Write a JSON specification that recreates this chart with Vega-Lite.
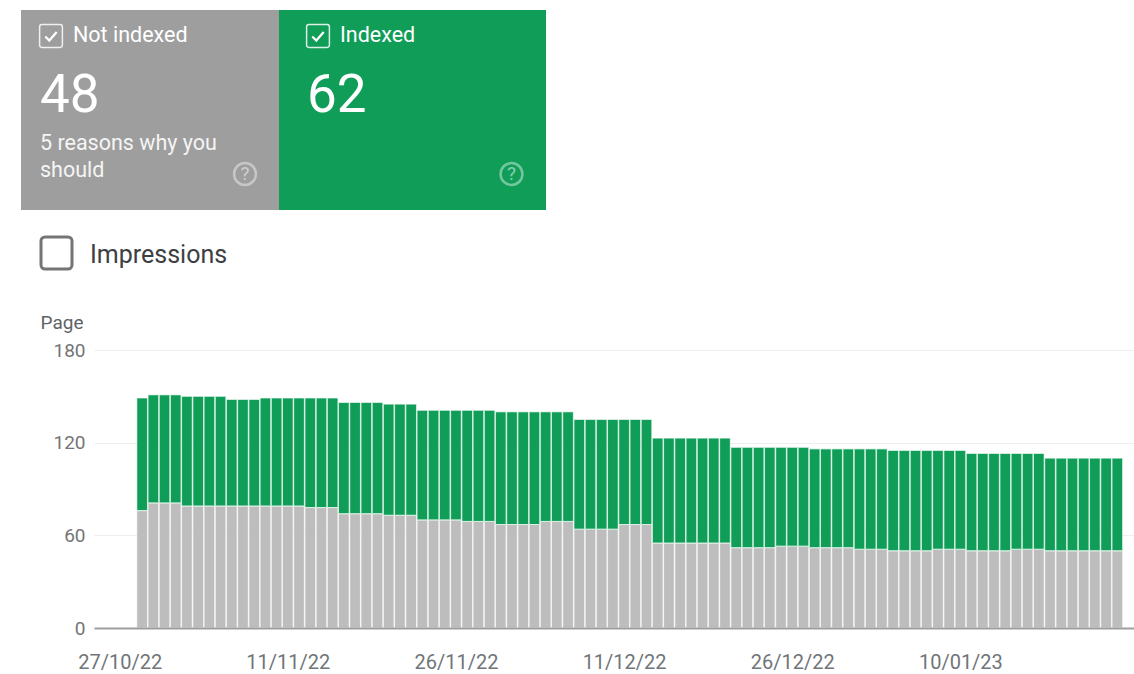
{"$schema":"https://vega.github.io/schema/vega-lite/v6.json","width":1040,"height":278,"autosize":"none","padding":{"left":94,"top":350,"right":0,"bottom":46},"background":"#ffffff","config":{"view":{"stroke":null},"font":"Roboto"},
"datasets":{"cards":[{"card":"Not indexed","count":48,"note1":"5 reasons why you","note2":"should"},{"card":"Indexed","count":62,"note1":"","note2":""}],"controls":[{"control":"Impressions"}],
"pages":[{"date":"2022-10-29","Not indexed":76,"Indexed":73},{"date":"2022-10-30","Not indexed":81,"Indexed":70},{"date":"2022-10-31","Not indexed":81,"Indexed":70},{"date":"2022-11-01","Not indexed":81,"Indexed":70},{"date":"2022-11-02","Not indexed":79,"Indexed":71},{"date":"2022-11-03","Not indexed":79,"Indexed":71},{"date":"2022-11-04","Not indexed":79,"Indexed":71},{"date":"2022-11-05","Not indexed":79,"Indexed":71},{"date":"2022-11-06","Not indexed":79,"Indexed":69},{"date":"2022-11-07","Not indexed":79,"Indexed":69},{"date":"2022-11-08","Not indexed":79,"Indexed":69},{"date":"2022-11-09","Not indexed":79,"Indexed":70},{"date":"2022-11-10","Not indexed":79,"Indexed":70},{"date":"2022-11-11","Not indexed":79,"Indexed":70},{"date":"2022-11-12","Not indexed":79,"Indexed":70},{"date":"2022-11-13","Not indexed":78,"Indexed":71},{"date":"2022-11-14","Not indexed":78,"Indexed":71},{"date":"2022-11-15","Not indexed":78,"Indexed":71},{"date":"2022-11-16","Not indexed":74,"Indexed":72},{"date":"2022-11-17","Not indexed":74,"Indexed":72},{"date":"2022-11-18","Not indexed":74,"Indexed":72},{"date":"2022-11-19","Not indexed":74,"Indexed":72},{"date":"2022-11-20","Not indexed":73,"Indexed":72},{"date":"2022-11-21","Not indexed":73,"Indexed":72},{"date":"2022-11-22","Not indexed":73,"Indexed":72},{"date":"2022-11-23","Not indexed":70,"Indexed":71},{"date":"2022-11-24","Not indexed":70,"Indexed":71},{"date":"2022-11-25","Not indexed":70,"Indexed":71},{"date":"2022-11-26","Not indexed":70,"Indexed":71},{"date":"2022-11-27","Not indexed":69,"Indexed":72},{"date":"2022-11-28","Not indexed":69,"Indexed":72},{"date":"2022-11-29","Not indexed":69,"Indexed":72},{"date":"2022-11-30","Not indexed":67,"Indexed":73},{"date":"2022-12-01","Not indexed":67,"Indexed":73},{"date":"2022-12-02","Not indexed":67,"Indexed":73},{"date":"2022-12-03","Not indexed":67,"Indexed":73},{"date":"2022-12-04","Not indexed":69,"Indexed":71},{"date":"2022-12-05","Not indexed":69,"Indexed":71},{"date":"2022-12-06","Not indexed":69,"Indexed":71},{"date":"2022-12-07","Not indexed":64,"Indexed":71},{"date":"2022-12-08","Not indexed":64,"Indexed":71},{"date":"2022-12-09","Not indexed":64,"Indexed":71},{"date":"2022-12-10","Not indexed":64,"Indexed":71},{"date":"2022-12-11","Not indexed":67,"Indexed":68},{"date":"2022-12-12","Not indexed":67,"Indexed":68},{"date":"2022-12-13","Not indexed":67,"Indexed":68},{"date":"2022-12-14","Not indexed":55,"Indexed":68},{"date":"2022-12-15","Not indexed":55,"Indexed":68},{"date":"2022-12-16","Not indexed":55,"Indexed":68},{"date":"2022-12-17","Not indexed":55,"Indexed":68},{"date":"2022-12-18","Not indexed":55,"Indexed":68},{"date":"2022-12-19","Not indexed":55,"Indexed":68},{"date":"2022-12-20","Not indexed":55,"Indexed":68},{"date":"2022-12-21","Not indexed":52,"Indexed":65},{"date":"2022-12-22","Not indexed":52,"Indexed":65},{"date":"2022-12-23","Not indexed":52,"Indexed":65},{"date":"2022-12-24","Not indexed":52,"Indexed":65},{"date":"2022-12-25","Not indexed":53,"Indexed":64},{"date":"2022-12-26","Not indexed":53,"Indexed":64},{"date":"2022-12-27","Not indexed":53,"Indexed":64},{"date":"2022-12-28","Not indexed":52,"Indexed":64},{"date":"2022-12-29","Not indexed":52,"Indexed":64},{"date":"2022-12-30","Not indexed":52,"Indexed":64},{"date":"2022-12-31","Not indexed":52,"Indexed":64},{"date":"2023-01-01","Not indexed":51,"Indexed":65},{"date":"2023-01-02","Not indexed":51,"Indexed":65},{"date":"2023-01-03","Not indexed":51,"Indexed":65},{"date":"2023-01-04","Not indexed":50,"Indexed":65},{"date":"2023-01-05","Not indexed":50,"Indexed":65},{"date":"2023-01-06","Not indexed":50,"Indexed":65},{"date":"2023-01-07","Not indexed":50,"Indexed":65},{"date":"2023-01-08","Not indexed":51,"Indexed":64},{"date":"2023-01-09","Not indexed":51,"Indexed":64},{"date":"2023-01-10","Not indexed":51,"Indexed":64},{"date":"2023-01-11","Not indexed":50,"Indexed":63},{"date":"2023-01-12","Not indexed":50,"Indexed":63},{"date":"2023-01-13","Not indexed":50,"Indexed":63},{"date":"2023-01-14","Not indexed":50,"Indexed":63},{"date":"2023-01-15","Not indexed":51,"Indexed":62},{"date":"2023-01-16","Not indexed":51,"Indexed":62},{"date":"2023-01-17","Not indexed":51,"Indexed":62},{"date":"2023-01-18","Not indexed":50,"Indexed":60},{"date":"2023-01-19","Not indexed":50,"Indexed":60},{"date":"2023-01-20","Not indexed":50,"Indexed":60},{"date":"2023-01-21","Not indexed":50,"Indexed":60},{"date":"2023-01-22","Not indexed":50,"Indexed":60},{"date":"2023-01-23","Not indexed":50,"Indexed":60},{"date":"2023-01-24","Not indexed":50,"Indexed":60}]},
"resolve":{"scale":{"x":"independent","y":"independent","color":"independent","stroke":"independent"}},
"layer":[
{"data":{"name":"pages"},"transform":[{"fold":["Not indexed","Indexed"],"as":["status","pages"]}],
"mark":{"type":"bar","width":10.7,"strokeWidth":1,"clip":false,"cornerRadiusTopLeft":{"expr":"datum.status==='Indexed'?2.5:0"},"cornerRadiusTopRight":{"expr":"datum.status==='Indexed'?2.5:0"}},
"encoding":{
"x":{"field":"date","type":"temporal","scale":{"type":"utc","padding":0,"domain":["2022-10-24T17:00:00Z","2023-01-25T11:45:00Z"]},"axis":{"title":null,"values":[{"year":2022,"month":10,"date":27,"utc":true},{"year":2022,"month":11,"date":11,"utc":true},{"year":2022,"month":11,"date":26,"utc":true},{"year":2022,"month":12,"date":11,"utc":true},{"year":2022,"month":12,"date":26,"utc":true},{"year":2023,"month":1,"date":10,"utc":true}],"format":"%d/%m/%y","grid":false,"ticks":false,"domainColor":"#9e9e9e","domainWidth":2,"labelFontSize":20,"labelColor":"#70757a","labelPadding":34,"labelBaseline":"middle","labelFlush":false,"labelOverlap":false,"zindex":1}},
"y":{"field":"pages","type":"quantitative","stack":"zero","scale":{"domain":[0,180],"nice":false},"axis":{"title":"Page","titleAngle":0,"titleAlign":"left","titleBaseline":"middle","titleX":-54,"titleY":-28,"titleFontSize":19,"titleFontWeight":"normal","titleColor":"#5f6368","values":[0,60,120,180],"ticks":false,"domain":false,"gridColor":"#eeeeee","grid":true,"labelFontSize":19,"labelColor":"#757575","labelPadding":9}},
"color":{"field":"status","type":"nominal","legend":null,"scale":{"domain":["Not indexed","Indexed"],"range":["#bdbdbd","#0f9d58"]}},
"stroke":{"field":"status","type":"nominal","legend":null,"scale":{"domain":["Not indexed","Indexed"],"range":["#f4f4f4","#d9f0e3"]}}}},

{"data":{"name":"cards"},"transform":[{"filter":"datum.card==='Not indexed'"}],"mark":{"type":"rect","color":"#9e9e9e","clip":false},"encoding":{"x":{"field":"card","type":"nominal","axis":null,"scale":{"range":[-73,185]}},"y":{"field":"card","type":"nominal","axis":null,"scale":{"range":[-340,-140]}}}},
{"data":{"name":"cards"},"transform":[{"filter":"datum.card==='Indexed'"}],"mark":{"type":"rect","color":"#0f9d58","clip":false},"encoding":{"x":{"field":"card","type":"nominal","axis":null,"scale":{"range":[185,452]}},"y":{"field":"card","type":"nominal","axis":null,"scale":{"range":[-340,-140]}}}},

{"data":{"name":"cards"},"mark":{"type":"point","shape":"M-0.8,-1H0.8Q1,-1 1,-0.8V0.8Q1,1 0.8,1H-0.8Q-1,1 -1,0.8V-0.8Q-1,-1 -0.8,-1Z","filled":false,"size":520,"stroke":"#ffffff","strokeWidth":1.5,"opacity":0.85},"encoding":{"x":{"field":"card","type":"nominal","axis":null,"scale":{"type":"point","padding":0,"domain":["Not indexed","Indexed"],"range":[-43,224]}},"y":{"field":"card","type":"nominal","axis":null,"scale":{"type":"point","padding":0,"range":[-314,-314]}}}},
{"data":{"name":"cards"},"mark":{"type":"point","shape":"M-0.5,0.05L-0.15,0.4L0.5,-0.35","filled":false,"size":520,"stroke":"#ffffff","strokeWidth":2.2,"opacity":1},"encoding":{"x":{"field":"card","type":"nominal","axis":null,"scale":{"type":"point","padding":0,"domain":["Not indexed","Indexed"],"range":[-43,224]}},"y":{"field":"card","type":"nominal","axis":null,"scale":{"type":"point","padding":0,"range":[-314,-314]}}}},
{"data":{"name":"cards"},"mark":{"type":"text","fontSize":21.5,"color":"#ffffff","align":"left","baseline":"middle"},"encoding":{"text":{"field":"card"},"x":{"field":"card","type":"nominal","axis":null,"scale":{"type":"point","padding":0,"domain":["Not indexed","Indexed"],"range":[-21,246]}},"y":{"field":"card","type":"nominal","axis":null,"scale":{"type":"point","padding":0,"range":[-314,-314]}}}},
{"data":{"name":"cards"},"mark":{"type":"text","fontSize":53,"color":"#ffffff","align":"left","baseline":"middle"},"encoding":{"text":{"field":"count","type":"quantitative"},"x":{"field":"card","type":"nominal","axis":null,"scale":{"type":"point","padding":0,"domain":["Not indexed","Indexed"],"range":[-54,213]}},"y":{"field":"card","type":"nominal","axis":null,"scale":{"type":"point","padding":0,"range":[-254,-254]}}}},
{"data":{"name":"cards"},"mark":{"type":"text","fontSize":21.5,"color":"#ffffff","opacity":0.9,"align":"left","baseline":"middle"},"encoding":{"text":{"field":"note1"},"x":{"field":"card","type":"nominal","axis":null,"scale":{"type":"point","padding":0,"domain":["Not indexed","Indexed"],"range":[-54,213]}},"y":{"field":"card","type":"nominal","axis":null,"scale":{"type":"point","padding":0,"range":[-206,-206]}}}},
{"data":{"name":"cards"},"mark":{"type":"text","fontSize":21.5,"color":"#ffffff","opacity":0.9,"align":"left","baseline":"middle"},"encoding":{"text":{"field":"note2"},"x":{"field":"card","type":"nominal","axis":null,"scale":{"type":"point","padding":0,"domain":["Not indexed","Indexed"],"range":[-54,213]}},"y":{"field":"card","type":"nominal","axis":null,"scale":{"type":"point","padding":0,"range":[-179,-179]}}}},
{"data":{"name":"cards"},"mark":{"type":"point","shape":"circle","filled":false,"size":480,"stroke":"#ffffff","strokeWidth":2.5,"opacity":0.42},"encoding":{"x":{"field":"card","type":"nominal","axis":null,"scale":{"type":"point","padding":0,"domain":["Not indexed","Indexed"],"range":[151,417.5]}},"y":{"field":"card","type":"nominal","axis":null,"scale":{"type":"point","padding":0,"range":[-176,-176]}}}},
{"data":{"name":"cards"},"mark":{"type":"text","text":"?","fontSize":19,"color":"#ffffff","opacity":0.5,"align":"center","baseline":"middle"},"encoding":{"x":{"field":"card","type":"nominal","axis":null,"scale":{"type":"point","padding":0,"domain":["Not indexed","Indexed"],"range":[151,417.5]}},"y":{"field":"card","type":"nominal","axis":null,"scale":{"type":"point","padding":0,"range":[-176,-176]}}}},

{"data":{"name":"controls"},"mark":{"type":"rect","fill":"#ffffff","stroke":"#757575","strokeWidth":3,"cornerRadius":4},"encoding":{"x":{"field":"control","type":"nominal","axis":null,"scale":{"range":[-53,-22]}},"y":{"field":"control","type":"nominal","axis":null,"scale":{"range":[-113,-81]}}}},
{"data":{"name":"controls"},"mark":{"type":"text","fontSize":25,"color":"#3c4043","align":"left","baseline":"middle"},"encoding":{"text":{"field":"control"},"x":{"field":"control","type":"nominal","axis":null,"scale":{"type":"point","padding":0,"range":[-4,-4]}},"y":{"field":"control","type":"nominal","axis":null,"scale":{"type":"point","padding":0,"range":[-95,-95]}}}}
]}
